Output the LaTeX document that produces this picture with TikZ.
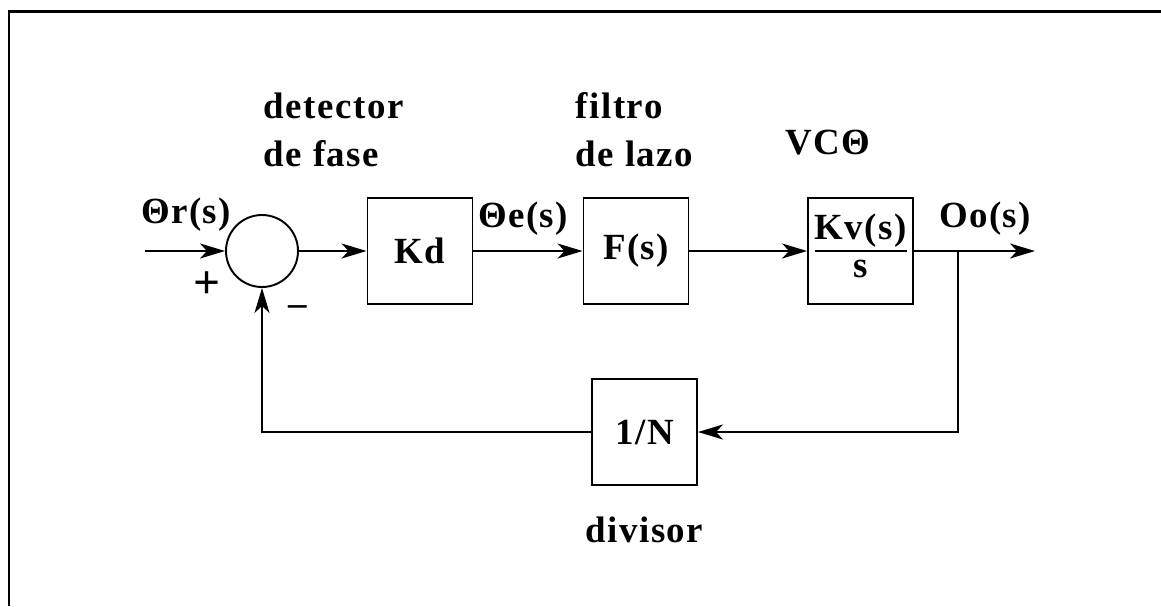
\documentclass[tikz,border=0pt]{standalone}
\usepackage{fontspec}
\setmainfont{Liberation Serif}[LetterSpace=4]
\usetikzlibrary{arrows.meta, positioning}

\begin{document}
\begin{tikzpicture}[
  font=\fontsize{21}{27}\selectfont\bfseries,
  line width=1.1pt,
  block/.style={draw, rectangle, minimum width=2.1cm, minimum height=2.12cm,
                inner sep=0pt, align=center},
  sumnode/.style={draw, circle, minimum size=1.44cm, inner sep=0pt},
  arrow/.style={-{Stealth[length=0.5cm, width=0.3cm, inset=0.14cm]}},
  label/.style={inner sep=0pt, anchor=base},
  caption/.style={inner sep=0pt, anchor=north west, align=left},
]
\useasboundingbox (0,0) rectangle (23.22,-12.12);

%% Frame
\draw[line width=1.7pt] (0.18,-12.12) -- (0.18,-0.23) -- (23.22,-0.23);

%% Blocks
\node[sumnode] (sum) at (5.24,-5.02) {};
\node[block] (kd)  at (8.4,-5.02)   {Kd};
\node[block] (f)   at (12.72,-5.02) {F(s)};
\node[block] (vco) at (17.21,-5.02)
  {\renewcommand\arraystretch{0.75}\setlength\arrayrulewidth{1.2pt}%
   \begin{tabular}{@{}c@{}}Kv(s)\\\hline s\end{tabular}};
\node[block] (div) at (12.89,-8.64) {1/N};

%% Signal ends
\coordinate (in)  at (2.9,-5.02);
\coordinate (out) at (20.7,-5.02);
\coordinate (tap) at (19.16,-5.02);

%% Captions
\node[caption] (detcap) at (5.26,-1.84) {detector\\de fase};
\node[caption] (filcap) at (11.5,-1.84) {filtro\\de lazo};
\node[label] (vcocap) at (16.56,-3.08) {VCΘ};
\node[inner sep=0pt, below=0.6cm of div] (divcap) {divisor};

%% Signal labels
\node[label] (thr) at (3.72,-4.46) {Θr(s)};
\node[label] (the) at (10.46,-4.54) {Θe(s)};
\node[label] (tho) at (19.7,-4.54) {Oo(s)};
\node[inner sep=0pt, font=\fontsize{27}{30}\selectfont\bfseries] (plus) at (4.14,-5.7) {+};
\node[inner sep=0pt] (minus) at (5.96,-6.22) {–};

%% Forward path
\draw[arrow] (in) -- (sum);
\draw[arrow] (sum) -- (kd);
\draw[arrow] (kd) -- (f);
\draw[arrow] (f) -- (vco);
\draw[arrow] (vco) -- (out);

%% Feedback path
\draw[arrow] (tap) |- (div);
\draw[arrow] (div) -| (sum);

\end{tikzpicture}
\end{document}
